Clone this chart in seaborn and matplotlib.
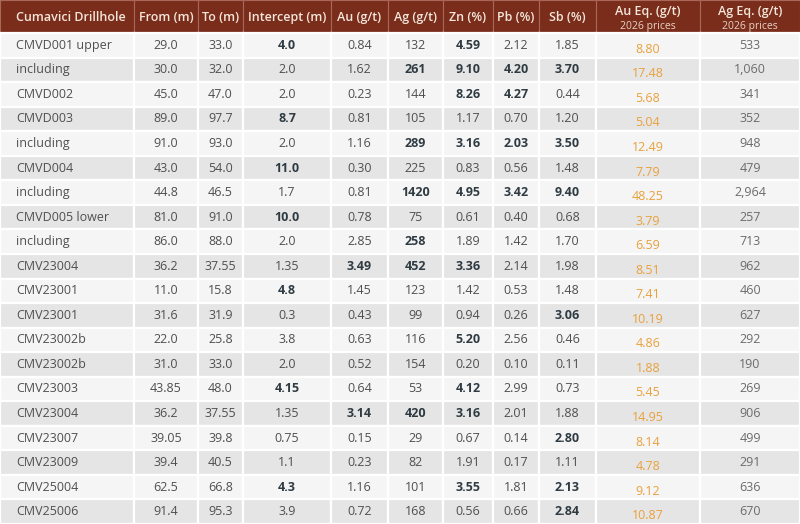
import matplotlib
matplotlib.use("Agg")
import matplotlib.pyplot as plt
import seaborn as sns
import numpy as np

# ---- data ----
headers = ["Cumavici Drillhole", "From (m)", "To (m)", "Intercept (m)", "Au (g/t)",
           "Ag (g/t)", "Zn (%)", "Pb (%)", "Sb (%)", "Au Eq. (g/t)", "Ag Eq. (g/t)"]
sub_headers = ["", "", "", "", "", "", "", "", "", "2026 prices", "2026 prices"]

drillhole = ["CMVD001 upper", "including", "CMVD002", "CMVD003", "including", "CMVD004",
             "including", "CMVD005 lower", "including", "CMV23004", "CMV23001", "CMV23001",
             "CMV23002b", "CMV23002b", "CMV23003", "CMV23004", "CMV23007", "CMV23009",
             "CMV25004", "CMV25006"]
from_m = ["29.0", "30.0", "45.0", "89.0", "91.0", "43.0", "44.8", "81.0", "86.0", "36.2",
          "11.0", "31.6", "22.0", "31.0", "43.85", "36.2", "39.05", "39.4", "62.5", "91.4"]
to_m = ["33.0", "32.0", "47.0", "97.7", "93.0", "54.0", "46.5", "91.0", "88.0", "37.55",
        "15.8", "31.9", "25.8", "33.0", "48.0", "37.55", "39.8", "40.5", "66.8", "95.3"]
intercept = ["4.0", "2.0", "2.0", "8.7", "2.0", "11.0", "1.7", "10.0", "2.0", "1.35",
             "4.8", "0.3", "3.8", "2.0", "4.15", "1.35", "0.75", "1.1", "4.3", "3.9"]
au = ["0.84", "1.62", "0.23", "0.81", "1.16", "0.30", "0.81", "0.78", "2.85", "3.49",
      "1.45", "0.43", "0.63", "0.52", "0.64", "3.14", "0.15", "0.23", "1.16", "0.72"]
ag = ["132", "261", "144", "105", "289", "225", "1420", "75", "258", "452",
      "123", "99", "116", "154", "53", "420", "29", "82", "101", "168"]
zn = ["4.59", "9.10", "8.26", "1.17", "3.16", "0.83", "4.95", "0.61", "1.89", "3.36",
      "1.42", "0.94", "5.20", "0.20", "4.12", "3.16", "0.67", "1.91", "3.55", "0.56"]
pb = ["2.12", "4.20", "4.27", "0.70", "2.03", "0.56", "3.42", "0.40", "1.42", "2.14",
      "0.53", "0.26", "2.56", "0.10", "2.99", "2.01", "0.14", "0.17", "1.81", "0.66"]
sb = ["1.85", "3.70", "0.44", "1.20", "3.50", "1.48", "9.40", "0.68", "1.70", "1.98",
      "1.48", "3.06", "0.46", "0.11", "0.73", "1.88", "2.80", "1.11", "2.13", "2.84"]
au_eq = ["8.80", "17.48", "5.68", "5.04", "12.49", "7.79", "48.25", "3.79", "6.59", "8.51",
         "7.41", "10.19", "4.86", "1.88", "5.45", "14.95", "8.14", "4.78", "9.12", "10.87"]
ag_eq = ["533", "1,060", "341", "352", "948", "479", "2,964", "257", "713", "962",
         "460", "627", "292", "190", "269", "906", "499", "291", "636", "670"]

# bold (highlighted) cells: column indices per row
bold_cols = [[3, 6], [5, 6, 7, 8], [6, 7], [3], [5, 6, 7, 8], [3], [5, 6, 7, 8], [3], [5],
             [4, 5, 6], [3], [8], [6], [], [3, 6], [4, 5, 6], [8], [], [3, 6, 8], [8]]

columns = [drillhole, from_m, to_m, intercept, au, ag, zn, pb, sb, au_eq, ag_eq]

# ---- layout ----
col_edges = [0, 134, 198, 243, 331, 388, 443, 493, 539, 596, 700, 800]
header_h = 33
n_rows = len(drillhole)
row_h = (524 - header_h) / n_rows

header_bg = "#7a2d1b"
header_fg = "#f4e6da"
row_light = "#f5f5f5"
row_dark = "#e5e5e5"
txt_normal = "#4f4f4f"
txt_bold = "#2f3b42"
txt_orange = "#e9a13c"
txt_ageq = "#6b6b6b"

sns.set_theme(style="white")
plt.rcParams["font.family"] = ["Open Sans", "DejaVu Sans"]

fig = plt.figure(figsize=(8, 5.24), dpi=100)
ax = fig.add_axes([0, 0, 1, 1])
ax.set_xlim(0, 800)
ax.set_ylim(524, 0)
ax.axis("off")

lefts = np.array(col_edges[:-1])
widths = np.diff(col_edges)

# header cells
ax.barh(y=[header_h / 2] * len(headers), width=widths, left=lefts, height=header_h,
        color=header_bg, edgecolor="#a8675a", linewidth=0.8)

# body cells
for i in range(n_rows):
    yc = header_h + (i + 0.5) * row_h
    c = row_light if i % 2 == 0 else row_dark
    ax.barh(y=[yc] * len(widths), width=widths, left=lefts, height=row_h,
            color=c, edgecolor="white", linewidth=1.6)

# header text
for j, h in enumerate(headers):
    xc = (col_edges[j] + col_edges[j + 1]) / 2
    if j == 0:
        ax.text(col_edges[0] + 16, header_h / 2 + 1, h, ha="left", va="center",
                color=header_fg, fontsize=9, fontweight="semibold")
    elif sub_headers[j]:
        ax.text(xc, 12, h, ha="center", va="center", color=header_fg,
                fontsize=9, fontweight="semibold")
        ax.text(xc, 26, sub_headers[j], ha="center", va="center", color="#e8d2c6",
                fontsize=7.5)
    else:
        ax.text(xc, header_h / 2 + 1, h, ha="center", va="center", color=header_fg,
                fontsize=9, fontweight="semibold")

# body text
for i in range(n_rows):
    yc = header_h + (i + 0.5) * row_h
    for j, col in enumerate(columns):
        val = col[i]
        xc = (col_edges[j] + col_edges[j + 1]) / 2
        bold = j in bold_cols[i]
        if j == 0:
            ax.text(col_edges[0] + 16, yc, val, ha="left", va="center",
                    color=txt_normal, fontsize=9)
        elif j == 9:
            ax.text(xc, yc + 4, val, ha="center", va="center", color=txt_orange,
                    fontsize=9)
        elif j == 10:
            ax.text(xc, yc, val, ha="center", va="center", color=txt_ageq,
                    fontsize=9)
        else:
            ax.text(xc, yc, val, ha="center", va="center",
                    color=txt_bold if bold else txt_normal, fontsize=9,
                    fontweight="bold" if bold else "normal")

fig.savefig("out.png", dpi=100, facecolor="white")
